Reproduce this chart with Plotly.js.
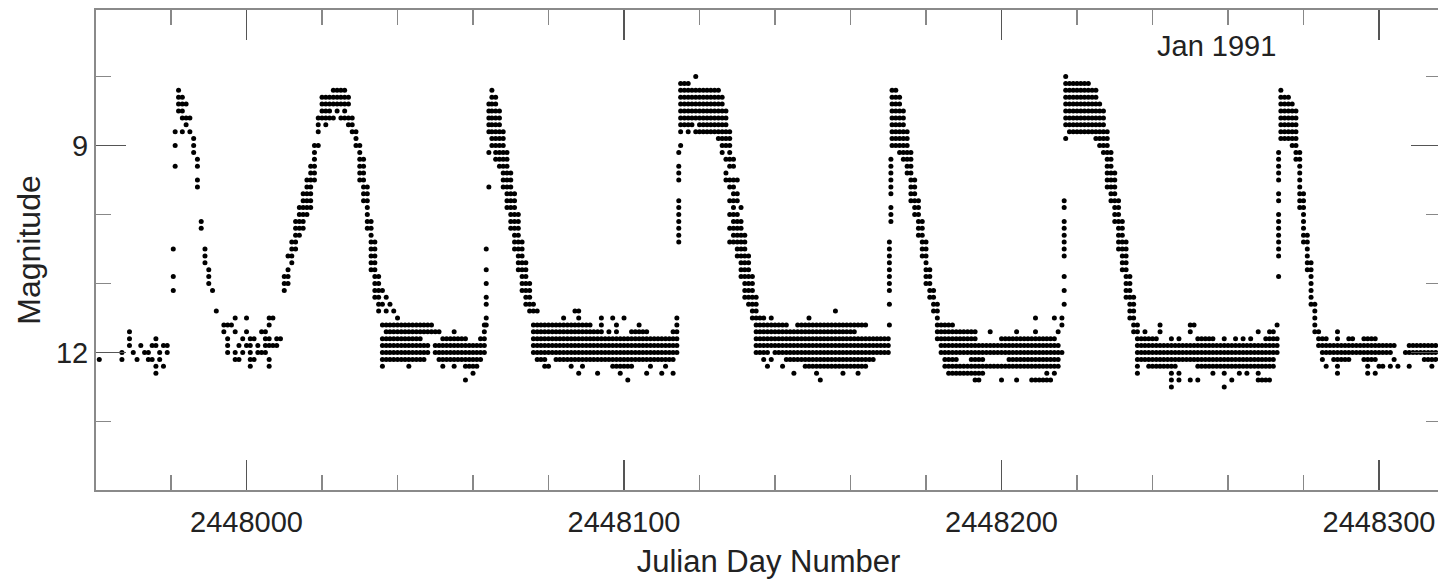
<!DOCTYPE html>
<html><head><meta charset="utf-8">
<script src="https://cdn.plot.ly/plotly-3.0.1.min.js"></script>
<style>html,body{margin:0;padding:0;overflow:hidden;background:#fff}#chart{width:1441px;height:579px}</style>
</head><body><div id="chart"></div>
<script>
// Julian day offset from JD 2448000 | magnitudes x10 observed that day
const JD_BASE = 2448000;

const quiescenceA = [
"-39|121","-33|120 121","-31|117 118 119","-30|120","-29|121","-28|119","-27|120",
"-26|120 121","-25|119 121","-24|118 119 122 123","-23|120 121","-22|119 122","-21|119 120"
];

const outburst1 = [
"-19.4|105 109 111","-18.9|88 90 93","-18|82 83 84 85","-17|83 84 85 86 88","-16|84 86 87",
"-15|86 88","-14|89 90 91","-13|92 93 95 96","-12|101 102","-11|105 106 107","-10|108 109 110",
"-9|111","-8|114"
];

const quiescenceB = [
"-6|116 117","-5|116 118 119 120","-4|116","-3|115 117 120 121","-2|119 121","-1|118 120",
"0|115 117 119","1|118 119 120 121 122","2|118 121","3|119 120","4|117 120","5|117 118 119 120",
"6|115 116 118 119 121 122","7|115 119","8|118 119","9|118"
];

const outburst2 = [
"10|109 110 111","11|106 108 109 110","12|104 105 106 107","13|101 102 103 104 105",
"14|99 100 101 102 103","15|97 98 99 100 101 102","16|95 96 97 98 99 100","17|93 94 95 96 97 98 99",
"18|90 91 92 93 94 95","19|86 87 88 90",
"20|83 84 85 86","21|83 84 85 86 87","22|83 84 85 86","23|82 83 84 86","24|82 83 84 85",
"25|82 83 84 86","26|82 83 84 85 86","27|83 84 86 87",
"28|86 87 88","29|88 89 90","30|90 91 92 93 94 95","31|92 93 94 95 96 97 98",
"32|96 97 98 99 100 101 102","33|101 102 103 104 105 106 107 108","34|104 105 106 107 108 109 110 111 112",
"35|109 110 111 112 113 114"
];

const quiescenceC = [
"36|111 113 116 118 119 120 121 122","37|112 114 116 117 118 119 120 121","38|113 116 117 118 119 120 121",
"39|114 116 117 118 119 120 121","40|115 116 117 118 119 120 121","41|116 117 118 119 120 121",
"42|116 117 118 119 120 121","43|116 117 118 119 120 121 122","44|116 117 118 119 120 121",
"45|116 117 118 119 120 121","46|116 117 118 119 120 121","47|116 117 119 120 121","48|116 117 119 120",
"49|116 117","50|117 119 120","51|117 119 120 121","52|118 119 120 121 122","53|118 119 120 121",
"54|118 119 120 121","55|117 118 119 120 121 122","56|118 119 120 121","57|118 119 120 121",
"58|118 119 120 121 122 124","59|119 120 121 122","60|119 120 121 122 123","61|119 120 121 122",
"62|118 119 120 121","63|116 117 118 119 120"
];

const outburst3 = [
"63.5|116 115 113 112 110 108 105","64.2|96 91 84 85 86 87 88","65|82 83 84 85 86 87 88 89 90",
"66|83 84 85 86 87 88 89 90 91 92","67|85 86 87 88 89 90 91 92 93","68|88 89 90 91 92 93 94 95 96",
"69|91 92 93 94 95 96 97 98 99","70|94 95 96 97 98 99 100 101 102","71|97 98 99 100 101 102 103 104 105",
"72|100 101 102 103 104 105 106 107 108","73|104 105 106 107 108 109 110 111","74|107 108 109 110 111 112 113",
"75|110 111 112 113 114","76|113 114 116 117 118 119 120"
];

const quiescenceD = [
"77|114 116 117 118 119 120 121","78|116 117 118 119 120 121","79|116 117 118 119 120 121 122",
"80|116 117 118 119 120 122","81|116 117 118 119 120","82|116 117 118 119 120 121","83|116 117 118 119 120 121",
"84|115 116 117 118 119 120 121","85|116 117 118 119 120 121","86|116 117 118 119 120 121 122",
"87|114 116 117 118 119 120 121","88|114 115 116 117 118 119 120 121 123","89|116 117 118 119 120 121 122",
"90|116 117 118 119 120 121","91|116 117 118 119 120 121","92|117 118 119 120 121","93|117 118 119 120 121 123",
"94|115 116 117 118 119 120 121","95|118 119 120 121","96|117 118 119 120 121","97|115 118 119 120 121 122",
"98|116 117 118 119 120 121 122","99|118 119 120 121 122 123","100|115 118 119 120 121 122",
"101|118 119 120 121 122 124","102|117 118 119 120 121 122","103|117 118 119 120 121","104|116 117 118 119 120 121",
"105|117 118 119 120 121","106|117 118 119 120 121 123","107|118 119 120 121 122","108|118 119 120 121",
"109|118 119 120 121","110|118 119 120 121 123","111|118 119 120 121 122","112|118 119 120 121",
"113|117 118 119 120 121 123","114|115 116 117 118 119 120"
];

const outburst4 = [
"114.5|104 103 102 101 100 99 98 95 94 93 91","115|81 82 83 84 85 86 87 88 90","116|81 82 83 84 85 86 87",
"117|81 82 83 84 85 86 87 88","118|82 83 84 85 86 87","119|80 82 83 84 85 86 88","120|82 83 84 85 86 87 88",
"121|82 83 84 85 86 87 88","122|82 83 84 85 86 87 88","123|82 83 84 85 86 87 88","124|82 83 84 85 86 87 88",
"125|82 83 84 85 86 87 88 89","126|83 84 85 86 87 88 89 90 91","127|85 86 87 88 89 90 92 94 95",
"128|88 89 90 91 92 93 95 96 98 100 102 104","129|92 93 95 96 97 98 99 100 101 102 103 104",
"130|95 97 98 100 101 102 103 104 105 106","131|99 101 102 103 104 105 106 107 108 109",
"132|103 104 105 106 107 108 109 110 111 112","133|106 107 108 109 110 111 112 113",
"134|109 110 111 112 113 114 115","135|112 113 114 115 116 117 118 119 120"
];

const quiescenceE = [
"136|115 116 117 118 119 120","137|115 116 117 118 119 120 121","138|116 117 118 119 120 122",
"139|115 116 117 118 119 121","140|116 117 118 119 120","141|116 117 118 119 120","142|116 117 118 119 120 122",
"143|116 117 118 119 120 121","144|117 118 119 120 121","145|117 118 119 120 121 123","146|116 117 118 119 120 121",
"147|116 117 118 119 120 121","148|116 117 118 119 120 121 122","149|115 116 117 118 119 120 121 122",
"150|116 117 118 119 120 121 122","151|116 117 118 119 120 121 122 123","152|116 117 118 119 120 121 122 124",
"153|116 117 118 119 120 121 122","154|116 117 118 119 120 121 122","155|116 117 118 119 120 121 122",
"156|114 116 117 118 119 120 121 122","157|116 117 118 119 120 121 122","158|116 117 118 119 120 121 122 123",
"159|116 117 118 119 120 121 122","160|116 117 118 119 120 121 122","161|116 117 118 119 120 121 122",
"162|116 118 119 120 121 122 123","163|116 118 119 120 121 122","164|116 118 119 120 121 122",
"165|118 119 120 121","166|118 119 120 121","167|118 119 120","168|118 119 120","169|118 119 120","170|118 119 120"
];

const outburst5 = [
"170.3|116 113 111 110 109 108 107 106 105 104","170.7|101 100 99 97 96 95 94 93 92",
"171|82 83 84 85 86 87 88 89 90","172|82 83 84 85 86 87 88 89 90","173|83 84 85 86 87 88 89 90 91",
"174|85 86 87 88 89 90 91 92","175|88 89 90 91 92 93 94","176|91 92 93 94 95 96 97 98",
"177|95 96 97 98 99 100","178|98 99 100 101 102 103","179|101 102 103 104 105 106",
"180|104 105 106 107 108 109 110","181|108 109 110 111 112","182|111 112 113 114","183|113 114 115 116 117 118"
];

const quiescenceF = [
"184|116 117 118 119 120","185|116 117 118 119 120 121 122","186|116 117 118 119 120 121 122 123",
"187|116 117 118 119 120 121 122 123","188|117 118 119 120 121 122 123","189|117 118 119 120 122 123",
"190|117 118 119 120 122 123","191|117 118 119 120 122 123","192|117 118 119 120 121 122 123",
"193|117 118 119 120 121 122 123 124","194|119 120 121 122 123 124","195|119 120 121 122 123","196|119 120 122",
"197|117 119 120 122","198|119 120 122","199|119 120 122","200|118 119 120 122 124","201|118 119 120 122",
"202|118 119 120 121 122","203|118 119 120 121 122","204|117 118 119 120 121 122 124","205|118 119 120 121 122",
"206|118 119 120 121 122","207|118 119 120 121 122","208|118 119 120 121 122 124","209|115 117 118 119 120 121 122 124",
"210|118 119 120 121 122 124","211|118 119 120 121 122 124","212|118 119 120 121 122 123 124",
"213|118 119 120 121 122 124","214|115 118 119 120 121 122 123","215|117 119 120 121 122","216|115 116 120"
];

const outburst6 = [
"216.6|113 111 109 106 105 104 103 102 101 99 98","217|80 81 82 83 84 85 86 87 89","218|81 82 83 84 85 86 87 88",
"219|81 82 83 84 85 86 87 88","220|81 82 83 84 85 86 87 88","221|81 82 83 84 85 86 87 88",
"222|81 82 83 84 85 86 87 88","223|81 82 83 84 85 86 87 88","224|82 83 84 85 86 87 88",
"225|82 83 84 85 86 87 88 89","226|84 85 86 87 88 89 90","227|85 86 87 88 89 90 91",
"228|88 89 90 91 92 93 94 95 96","229|91 92 93 94 95 96 97 98","230|94 95 96 97 98 99 100 101",
"231|98 99 100 101 102 103 104 105","232|101 102 103 104 105 106 107 108","233|104 105 106 107 108 109 110 111 112",
"234|109 110 111 112 113 114 115","235|112 113 114 115 116 117"
];

const quiescenceG = [
"236|116 117 118 119 120 121 122 123","237|118 119 120 121","238|117 118 119 120 121","239|118 119 120 121 122",
"240|118 119 120 121 122","241|118 119 120 121 122","242|116 117 119 120 121 122","243|119 120 121 122",
"244|119 120 121 122","245|118 119 120 121 122 123 124 125","246|119 120 121 122","247|118 119 120 121 123 124",
"248|119 120 121","249|119 120 121","250|116 117 119 120 121 124","251|116 119 120 121","252|118 119 120 121 122 124",
"253|118 119 120 121 122","254|118 119 120 121 122","255|118 119 120 121 122","256|118 119 120 121 122 123",
"257|119 120 121 122","258|119 120 121 122","259|118 119 120 121 122 123 125","260|119 120 121 122",
"261|119 120 121 122 124","262|118 119 120 121 122","263|119 120 121 122 123","264|118 119 120 121 122",
"265|119 120 121 122 123","266|118 119 120 121 122","267|119 120 121 122","268|117 119 120 121 122 123 124",
"269|119 120 121 122 124","270|118 119 120 121 122 124","271|117 118 119 120 121 122 124","272|117 118 119 120 121 122",
"273|116 118 119 120"
];

const outburst7 = [
"273.4|109 106 105 104 103 102 101 100 98 97 95 94 93 92 91","274|82 83 84 85 86 87 88 89",
"275|83 84 85 86 87 88 89","276|83 84 85 86 87 88 89","277|84 85 86 87 88 89 90","278|85 86 87 88 89 90 91 92",
"279|91 92 93 94 95 96 97 98 99","280|97 98 99 100 101 102 103 104","281|103 104 105 106 107 108",
"282|107 108 109 110 111 112 113","283|113 114 115 116 117"
];

const quiescenceH = [
"284|117 118 119","285|118 119 120 121","286|118 119 120 122","287|119 120","288|119 120 121",
"289|117 118 119 120 121 122 123","290|119 120 121","291|119 120 121","292|118 119 120 121","293|118 119 120",
"294|119 120","295|119 120","296|118 119 120 121","297|118 119 120 121 122 123","298|118 119 120 121",
"299|118 119 120 121 123","300|119 120 122","301|119 120 122","302|119 120","303|119 120 122","304|119 121",
"305|122","307|120","308|119 120 122","309|119 120","310|119 120","311|119 120","312|119 120 121",
"313|119 120 121","314|119 120 121 122","315|119 120 121"
];

const segments = [quiescenceA, outburst1, quiescenceB, outburst2, quiescenceC, outburst3, quiescenceD,
  outburst4, quiescenceE, outburst5, quiescenceF, outburst6, quiescenceG, outburst7, quiescenceH];

const xs = [], ys = [];
segments.forEach(seg => seg.forEach(entry => {
  const parts = entry.split('|');
  const jd = JD_BASE + parseFloat(parts[0]);
  parts[1].trim().split(/\s+/).forEach(v => { xs.push(jd); ys.push(parseInt(v, 10) / 10); });
}));

const FONT = 'Liberation Sans, Arial, Helvetica, sans-serif';
const TXT = '#222';

const trace = {
  x: xs, y: ys, type: 'scatter', mode: 'markers',
  marker: {color: '#000', size: 5, line: {width: 0}},
  hoverinfo: 'x+y', showlegend: false
};

const layout = {
  width: 1441, height: 579,
  margin: {l: 96, r: 0, t: 10, b: 89},
  paper_bgcolor: '#fff', plot_bgcolor: '#fff',
  font: {family: FONT, color: TXT, size: 29},
  xaxis: {
    range: [2447960.13, 2448316.42],
    tickmode: 'linear', tick0: 2448000, dtick: 100, tickformat: 'd',
    ticks: 'inside', ticklen: 30, tickwidth: 1.5, tickcolor: '#555',
    ticklabelstandoff: 5,
    minor: {tick0: 2448000, dtick: 20, ticks: 'inside', ticklen: 15, tickwidth: 1.5, tickcolor: '#888', showgrid: false},
    showline: true, linecolor: '#8a8a8a', linewidth: 2, mirror: 'ticks',
    showgrid: false, zeroline: false,
    tickfont: {family: FONT, size: 29, color: TXT},
    title: {text: 'Julian Day Number', font: {family: FONT, size: 31, color: TXT}, standoff: 16}
  },
  yaxis: {
    range: [13.993, 7.036],
    tickmode: 'linear', tick0: 0, dtick: 3,
    ticks: 'inside', ticklen: 30, tickwidth: 1.5, tickcolor: '#555',
    minor: {tick0: 0, dtick: 1, ticks: 'inside', ticklen: 15, tickwidth: 1.5, tickcolor: '#888', showgrid: false},
    showline: true, linecolor: '#8a8a8a', linewidth: 2, mirror: 'ticks',
    showgrid: false, zeroline: false,
    tickfont: {family: FONT, size: 29, color: TXT},
    title: {text: 'Magnitude', font: {family: FONT, size: 32, color: TXT}, standoff: 6}
  },
  annotations: [{
    x: 2448257, y: 7.56, xref: 'x', yref: 'y', text: 'Jan 1991', showarrow: false,
    font: {family: FONT, size: 29, color: TXT}
  }]
};

Plotly.newPlot('chart', [trace], layout, {displayModeBar: false, staticPlot: true});
</script>
</body></html>
